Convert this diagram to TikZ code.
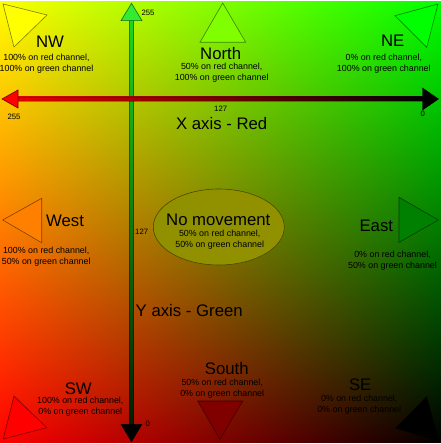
\documentclass[tikz,border=0pt]{standalone}
\usepackage{fontspec}
\setmainfont{Liberation Sans}
\usetikzlibrary{calc}
\pgfdeclarefunctionalshading{bilin}{\pgfpointorigin}{\pgfpoint{441bp}{441bp}}{}{441 div exch 441 div 1 exch sub exch 0}
\definecolor{cNW}{RGB}{255,255,0}
\definecolor{cN}{RGB}{128,255,0}
\definecolor{cNE}{RGB}{0,255,0}
\definecolor{cW}{RGB}{255,128,0}
\definecolor{cE}{RGB}{0,128,0}
\definecolor{cSW}{RGB}{255,0,0}
\definecolor{cS}{RGB}{128,0,0}
\definecolor{cSE}{RGB}{0,0,0}
\definecolor{cMid}{RGB}{145,145,0}
\definecolor{ytop}{RGB}{30,215,30}
\definecolor{ybot}{RGB}{0,30,0}
\definecolor{ytip}{RGB}{50,235,50}
\definecolor{xleft}{RGB}{225,0,0}
\tikzset{
  tri/.style={fill=#1, draw=#1!50!black, line width=0.6bp},
  shaft/.style={draw=black, draw opacity=0.35, line width=0.5bp},
  big/.style={font=\fontsize{16.8}{18}\selectfont, anchor=base, inner sep=0pt},
  sub/.style={font=\fontsize{8.9}{11}\selectfont, align=center, inner sep=0pt},
  num/.style={font=\fontsize{7.8}{9}\selectfont, inner sep=0pt},
}
\begin{document}
\begin{tikzpicture}[x=1bp, y=-1bp]
\useasboundingbox (0,0) rectangle (441,444);
\fill[white] (0,0) rectangle (441,444);
\node[inner sep=0pt, outer sep=0pt, anchor=south west] (bg) at (0,442) {\pgfuseshading{bilin}};

% triangles
\draw[tri=cNW] (3,4) -- (47,15) -- (14,47) -- cycle;
\draw[tri=cN] (222.7,3) -- (200,42.3) -- (245.7,42.3) -- cycle;
\draw[tri=cNE] (438,4) -- (395,15.7) -- (426.7,47.3) -- cycle;
\draw[tri=cW] (2.7,220) -- (41.7,198.3) -- (41.7,242.7) -- cycle;
\draw[tri=cE] (399,197.3) -- (399,242.3) -- (438.3,220) -- cycle;
\draw[tri=cSW] (14,396) -- (46.7,427.7) -- (3.3,439) -- cycle;
\draw[tri=cS] (197.7,401) -- (242.7,401) -- (220,439.3) -- cycle;
\draw[fill=black, draw=black] (426.7,396.7) -- (438.3,440) -- (395.7,428.3) -- cycle;

% ellipse
\draw[fill=cMid, draw=cMid!50!black, line width=0.6bp] (218.8,227) ellipse [x radius=65.5, y radius=38];

% axes
\coordinate (xL) at (2,99);
\coordinate (xR) at (438.5,99);
\coordinate (yT) at (131.5,3.3);
\coordinate (yB) at (131.5,441.7);

\shade[shaft, top color=ytop, bottom color=ybot] ($(yT)+(-2.2,17)$) rectangle ($(yB)+(2.2,-17)$);
\draw[fill=ytip, draw=ytip!45!black, line width=0.6bp] (yT) -- ++(-10.5,17.4) -- ++(21,0) -- cycle;
\draw[fill=black, draw=black] (yB) -- ++(-10.5,-17.4) -- ++(21,0) -- cycle;

\shade[shaft, left color=xleft, right color=black] ($(xL)+(15,-2)$) rectangle ($(xR)+(-15,2)$);
\draw[fill=cSW, draw=cSW!45!black, line width=0.6bp] (xL) -- ++(16,-9) -- ++(0,18) -- cycle;
\draw[fill=black, draw=black] (xR) -- ++(-16,-11) -- ++(0,22) -- cycle;

% axis labels
\node[num] (n255t) at (148,12.5) {255};
\node[num] (n255l) at (14,117.3) {255};
\node[num] (n0r) at (422.7,114.3) {0};
\node[num] (n127x) at (220.7,109) {127};
\node[num] (n127y) at (141.7,231.7) {127};
\node[num] (n0b) at (147.7,424.3) {0};
\node[big] (xlab) at (221.7,130) {X axis - Red};
\node[big] (ylab) at (189.2,316) {Y axis - Green};

% region titles
\node[big] (tNW) at (50,47.3) {NW};
\node[big] (tN) at (220.7,60) {North};
\node[big] (tNE) at (392.7,46.7) {NE};
\node[big] (tW) at (65,226.7) {West};
\node[big] (tE) at (376.3,231) {East};
\node[big] (tMid) at (218.3,225.7) {No movement};
\node[big] (tSW) at (78.3,394.3) {SW};
\node[big] (tS) at (226.8,374) {South};
\node[big] (tSE) at (360.2,390) {SE};

% region descriptions
\node[sub] (dNW) at (46.5,64) {100\% on red channel,\\100\% on green channel};
\node[sub] (dN) at (221.7,72.3) {50\% on red channel,\\100\% on green channel};
\node[sub] (dNE) at (383.8,64.1) {0\% on red channel,\\100\% on green channel};
\node[sub] (dW) at (46.2,256.5) {100\% on red channel,\\50\% on green channel};
\node[sub] (dE) at (392.5,260.7) {0\% on red channel,\\50\% on green channel};
\node[sub] (dMid) at (219.7,239.6) {50\% on red channel,\\50\% on green channel};
\node[sub] (dSW) at (80.3,406.8) {100\% on red channel,\\0\% on green channel};
\node[sub] (dS) at (222.2,389.1) {50\% on red channel,\\0\% on green channel};
\node[sub] (dSE) at (359.2,405) {0\% on red channel,\\0\% on green channel};
\end{tikzpicture}
\end{document}
